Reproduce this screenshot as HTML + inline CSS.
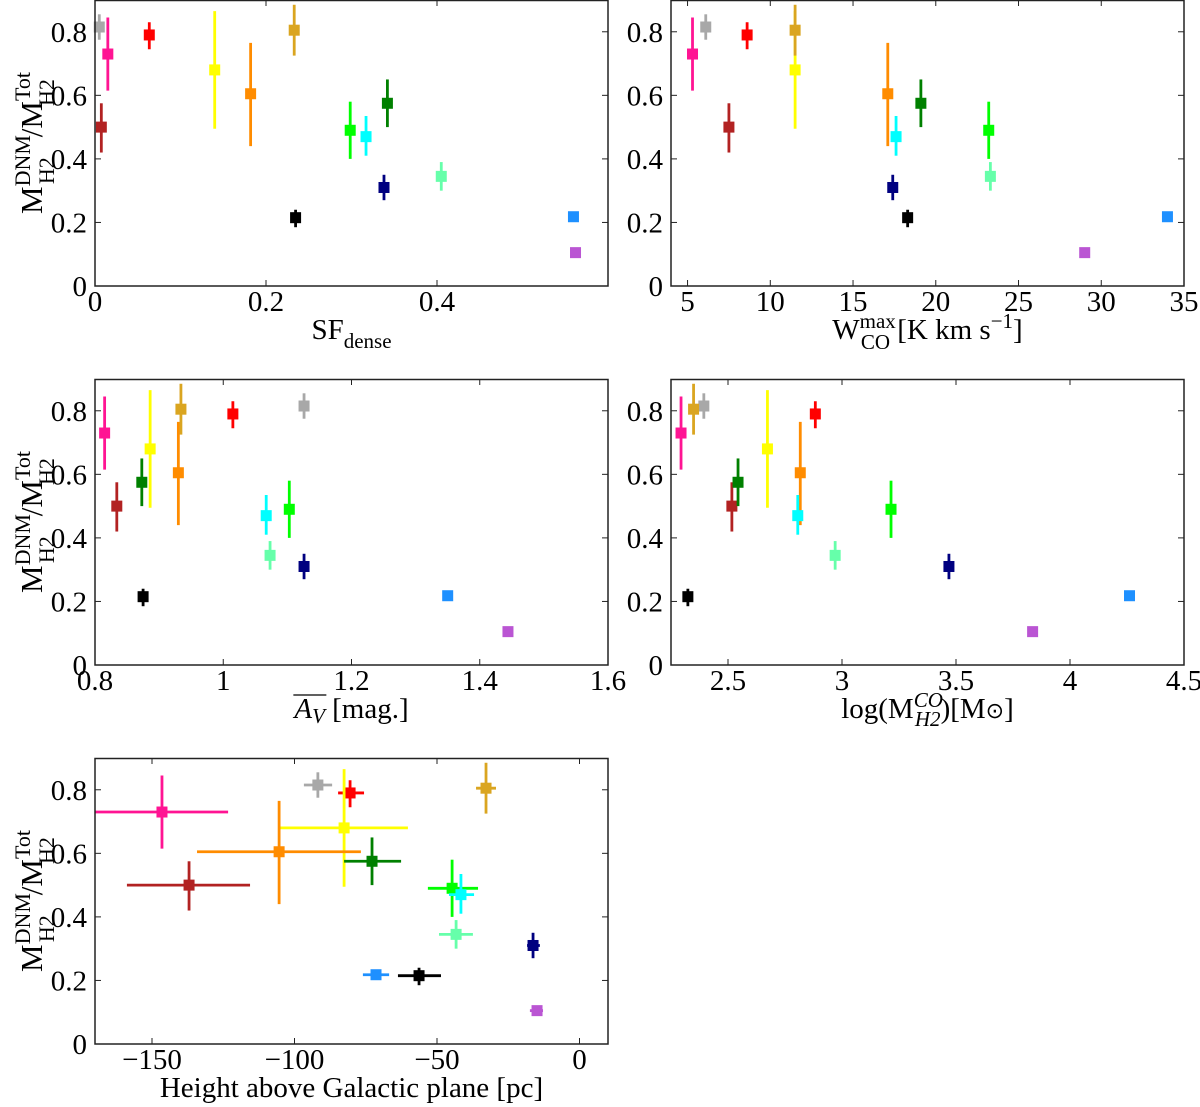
<!DOCTYPE html>
<html><head><meta charset="utf-8"><style>
html,body{margin:0;padding:0;background:#fff;}
svg{display:block;font-family:"Liberation Serif",serif;}
</style></head><body>
<svg id="fig" width="1200" height="1107" viewBox="0 0 1200 1107" xmlns="http://www.w3.org/2000/svg"></svg>
<script>
const clouds = ["gray","pink","red","brown","yellow","orange","gold","black","lime","cyan","green","navy","aqua","blue","purple"];
const colors = ["#a8a8a8","#ff1493","#ff0000","#b22222","#ffff00","#ff8c00","#daa520","#000000","#00ff00","#00ffff","#008000","#000080","#66ffaa","#1e90ff","#ba55d3"];
const fracY = [0.815,0.73,0.79,0.50,0.68,0.605,0.805,0.215,0.49,0.47,0.575,0.31,0.345,0.218,0.105];
const fracLo = [0.775,0.615,0.745,0.42,0.495,0.44,0.725,0.185,0.40,0.41,0.50,0.27,0.30,0.213,0.095];
const fracHi = [0.855,0.845,0.83,0.575,0.865,0.765,0.885,0.24,0.58,0.535,0.65,0.35,0.39,0.223,0.12];
const sfDense = [0.005,0.015,0.0635,0.0074,0.14,0.182,0.233,0.2346,0.2985,0.317,0.342,0.338,0.405,0.5596,0.562];
const wcoMax = [6.1,5.3,8.6,7.5,11.5,17.1,11.5,18.3,23.2,17.6,19.1,17.4,23.3,34.0,29.0];
const avMean = [1.126,0.815,1.015,0.834,0.886,0.93,0.934,0.875,1.103,1.067,0.873,1.126,1.073,1.35,1.444];
const logMco = [2.394,2.294,2.883,2.517,2.673,2.817,2.349,2.324,3.215,2.806,2.544,3.469,2.970,4.261,3.836];
const height = [-91.8,-146.5,-80.5,-137,-82.6,-105.4,-32.8,-56.3,-44.7,-41.6,-72.8,-16.3,-43.3,-71.4,-14.9];
const heightLo = [-96.7,-172,-84.7,-158.8,-105.4,-134.2,-36.3,-63.7,-53.2,-45.8,-82.6,-18.4,-49.3,-76,-17.4];
const heightHi = [-86.8,-123.3,-75.6,-115.6,-60.2,-76.7,-29.3,-48.6,-35.6,-37,-62.6,-13.9,-37.4,-66.8,-12.8];
const yTicks = [0,0.2,0.4,0.6,0.8];
const yTickLabels = ["0","0.2","0.4","0.6","0.8"];
const ticks1 = [0,0.2,0.4], labels1 = ["0","0.2","0.4"];
const ticks2 = [5,10,15,20,25,30,35], labels2 = ["5","10","15","20","25","30","35"];
const ticks3 = [0.8,1,1.2,1.4,1.6], labels3 = ["0.8","1","1.2","1.4","1.6"];
const ticks4 = [2.5,3,3.5,4,4.5], labels4 = ["2.5","3","3.5","4","4.5"];
const ticks5 = [-150,-100,-50,0], labels5 = ["\u2212150","\u2212100","\u221250","0"];

const NS="http://www.w3.org/2000/svg";
const svg=document.getElementById('fig');
function mk(tag,attrs,parent){const e=document.createElementNS(NS,tag);for(const k in attrs)e.setAttribute(k,attrs[k]);(parent||svg).appendChild(e);return e;}

const panels=[
 {name:"sf-dense-panel",x0:95,x1:608,y0:0,y1:286,xmin:0,xmax:0.6,xs:sfDense,ticks:ticks1,labels:labels1},
 {name:"wco-max-panel",x0:671,x1:1184,y0:0,y1:286,xmin:4,xmax:35,xs:wcoMax,ticks:ticks2,labels:labels2},
 {name:"av-panel",x0:95,x1:608,y0:379,y1:665,xmin:0.8,xmax:1.6,xs:avMean,ticks:ticks3,labels:labels3},
 {name:"log-mass-panel",x0:671,x1:1184,y0:379,y1:665,xmin:2.25,xmax:4.5,xs:logMco,ticks:ticks4,labels:labels4},
 {name:"height-panel",x0:95,x1:608,y0:758,y1:1044,xmin:-170,xmax:10,xs:height,ticks:ticks5,labels:labels5,xerr:true}
];
const xlabels=[
 '<tspan>SF</tspan><tspan font-size="21" dy="9">dense</tspan>',
 '<tspan>W</tspan><tspan font-size="21" dy="-11">max</tspan><tspan font-size="21" dx="-35" dy="21">CO</tspan><tspan dy="-10"> [K km s</tspan><tspan font-size="21" dy="-11">\u22121</tspan><tspan dy="11">]</tspan>',
 '<tspan font-style="italic">A</tspan><tspan font-style="italic" font-size="21" dy="5">V</tspan><tspan dy="-5">  [mag.]</tspan>',
 '<tspan>log(M</tspan><tspan font-style="italic" font-size="21" dy="-11">CO</tspan><tspan font-style="italic" font-size="21" dx="-28" dy="19">H2</tspan><tspan dy="-8">)[M</tspan><tspan font-size="22">\u2299</tspan><tspan>]</tspan>',
 '<tspan>Height above Galactic plane [pc]</tspan>'
];
panels.forEach((p,pi)=>{
 const g=mk('g',{});
 
 
 const sx=v=>p.x0+(v-p.xmin)/(p.xmax-p.xmin)*(p.x1-p.x0);
 const sy=v=>p.y1-(v/0.9)*(p.y1-p.y0);
 yTicks.forEach((t,i)=>{
  const y=sy(t);
  mk('line',{x1:p.x0,x2:p.x0+6,y1:y,y2:y,stroke:'#222','stroke-width':1},g);
  mk('line',{x1:p.x1,x2:p.x1-6,y1:y,y2:y,stroke:'#222','stroke-width':1},g);
  const tx=mk('text',{x:p.x0-8,y:y+10,'text-anchor':'end','font-size':29},g);
  tx.textContent=yTickLabels[i];
  
  
 });
 p.ticks.forEach((t,i)=>{
  const x=sx(t);
  mk('line',{x1:x,x2:x,y1:p.y1,y2:p.y1-6,stroke:'#222','stroke-width':1},g);
  mk('line',{x1:x,x2:x,y1:p.y0,y2:p.y0+6,stroke:'#222','stroke-width':1},g);
  const tx=mk('text',{x:x,y:p.y1+25,'text-anchor':'middle','font-size':29},g);
  tx.textContent=p.labels[i];
  
  
 });
 clouds.forEach((c,i)=>{
  const x=sx(p.xs[i]),y=sy(fracY[i]);
  const col=colors[i];
  const pt=mk('g',{},g);
  
  
  mk('line',{x1:x,x2:x,y1:sy(fracLo[i]),y2:sy(fracHi[i]),stroke:col,'stroke-width':2.8},pt);
  if(p.xerr){
   const xl=Math.max(sx(heightLo[i]),p.x0), xh=sx(heightHi[i]);
   mk('line',{x1:xl,x2:xh,y1:y,y2:y,stroke:col,'stroke-width':2.8},pt);
  }
  mk('rect',{x:x-5.5,y:y-5.5,width:11,height:11,fill:col},pt);
 });
 mk('rect',{x:p.x0,y:p.y0+0.5,width:p.x1-p.x0,height:p.y1-p.y0-0.5,fill:'none',stroke:'#222','stroke-width':1.5},g);
 const xt=mk('text',{x:(p.x0+p.x1)/2,y:p.y1+53,'text-anchor':'middle','font-size':29},g);
 xt.innerHTML=xlabels[pi];
 
 
 if(pi===2){
  const bb=xt.getBBox();
  mk('line',{x1:bb.x+1,x2:bb.x+34,y1:p.y1+30,y2:p.y1+30,stroke:'#000','stroke-width':1.3},g);
 }
 if(pi%2===0){
  const cy=(p.y0+p.y1)/2;
  const yt=mk('text',{x:0,y:0,'text-anchor':'middle','font-size':31,transform:`translate(42,${cy}) rotate(-90)`},g);
  yt.innerHTML='<tspan>M</tspan><tspan font-size="22" dy="-12">DNM</tspan><tspan font-size="22" dx="-49" dy="24">H2</tspan><tspan dx="20" dy="-12">/M</tspan><tspan font-size="22" dy="-12">Tot</tspan><tspan font-size="22" dx="-34" dy="24">H2</tspan>';
  
  
 }
});
</script>
</body></html>
